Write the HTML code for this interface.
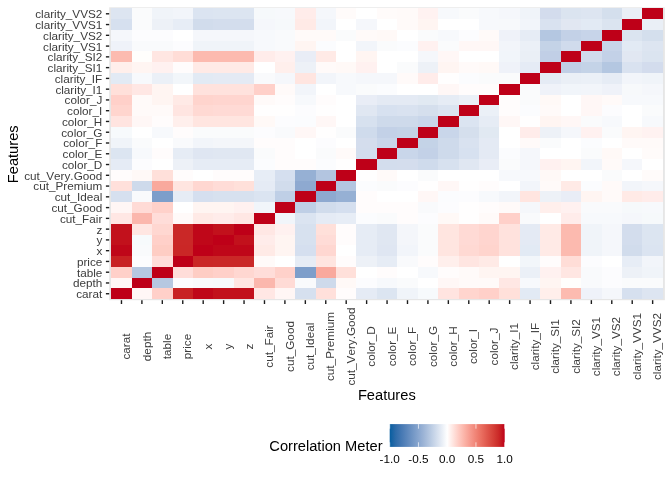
<!DOCTYPE html><html><head><meta charset="utf-8"><title>Correlation heatmap</title><style>html,body{margin:0;padding:0;background:#fff}svg{display:block}text{font-family:"Liberation Sans",Arial,Helvetica,sans-serif;font-kerning:none}</style></head><body>
<svg width="672" height="480" viewBox="0 0 672 480">
<rect width="672" height="480" fill="#fff"/>
<rect x="109.2" y="7.33" width="555.65" height="292.87" fill="#E6E6E6"/>
<g shape-rendering="crispEdges">
<rect x="111" y="288" width="21" height="11" fill="#BE0018"/>
<rect x="111" y="278" width="21" height="10" fill="#FFF7F6"/>
<rect x="111" y="267" width="21" height="11" fill="#FFD0C9"/>
<rect x="111" y="256" width="21" height="11" fill="#C82223"/>
<rect x="111" y="245" width="21" height="11" fill="#BF0719"/>
<rect x="111" y="235" width="21" height="10" fill="#C2111C"/>
<rect x="111" y="224" width="21" height="11" fill="#C2111C"/>
<rect x="111" y="213" width="21" height="11" fill="#FFE7E4"/>
<rect x="111" y="202" width="21" height="11" fill="#FFF6F5"/>
<rect x="111" y="191" width="21" height="11" fill="#D6E0EF"/>
<rect x="111" y="181" width="21" height="10" fill="#FFE0DB"/>
<rect x="111" y="170" width="21" height="11" fill="#FFFCFC"/>
<rect x="111" y="159" width="21" height="11" fill="#E5EBF5"/>
<rect x="111" y="148" width="21" height="11" fill="#DCE5F1"/>
<rect x="111" y="138" width="21" height="10" fill="#F0F4F9"/>
<rect x="111" y="127" width="21" height="11" fill="#F7FAFC"/>
<rect x="111" y="116" width="21" height="11" fill="#FFE4E0"/>
<rect x="111" y="105" width="21" height="11" fill="#FFD5CE"/>
<rect x="111" y="95" width="21" height="10" fill="#FFD0C9"/>
<rect x="111" y="84" width="21" height="11" fill="#FFE0DA"/>
<rect x="111" y="73" width="21" height="11" fill="#E2EAF4"/>
<rect x="111" y="62" width="21" height="11" fill="#FFEFEB"/>
<rect x="111" y="51" width="21" height="11" fill="#FCBBB0"/>
<rect x="111" y="41" width="21" height="10" fill="#EFF2F9"/>
<rect x="111" y="30" width="21" height="11" fill="#F5F7FB"/>
<rect x="111" y="19" width="21" height="11" fill="#D6E0EF"/>
<rect x="111" y="8" width="21" height="11" fill="#DDE5F1"/>
<rect x="132" y="288" width="20" height="11" fill="#FFF7F6"/>
<rect x="132" y="278" width="20" height="10" fill="#BE0018"/>
<rect x="132" y="267" width="20" height="11" fill="#B6C8E1"/>
<rect x="132" y="256" width="20" height="11" fill="#FCFCFE"/>
<rect x="132" y="245" width="20" height="11" fill="#F9FAFC"/>
<rect x="132" y="235" width="20" height="10" fill="#F7FAFC"/>
<rect x="132" y="224" width="20" height="11" fill="#FFE6E2"/>
<rect x="132" y="213" width="20" height="11" fill="#FBB7AD"/>
<rect x="132" y="202" width="20" height="11" fill="#FFDBD6"/>
<rect x="132" y="191" width="20" height="11" fill="#F9FAFC"/>
<rect x="132" y="181" width="20" height="10" fill="#CEDAEB"/>
<rect x="132" y="170" width="20" height="11" fill="#FFF9F7"/>
<rect x="132" y="159" width="20" height="11" fill="#FCFCFE"/>
<rect x="132" y="148" width="20" height="11" fill="#F7F9FC"/>
<rect x="132" y="138" width="20" height="10" fill="#FAFBFC"/>
<rect x="132" y="127" width="20" height="11" fill="#FFFFFF"/>
<rect x="132" y="116" width="20" height="11" fill="#FFF7F6"/>
<rect x="132" y="105" width="20" height="11" fill="#FFFAF9"/>
<rect x="132" y="95" width="20" height="10" fill="#FFFAF9"/>
<rect x="132" y="84" width="20" height="11" fill="#FFE7E4"/>
<rect x="132" y="73" width="20" height="11" fill="#F7F9FC"/>
<rect x="132" y="62" width="20" height="11" fill="#FFF5F2"/>
<rect x="132" y="51" width="20" height="11" fill="#FFFEFC"/>
<rect x="132" y="41" width="20" height="10" fill="#F9FAFC"/>
<rect x="132" y="30" width="20" height="11" fill="#FCFCFE"/>
<rect x="132" y="19" width="20" height="11" fill="#FAFBFC"/>
<rect x="132" y="8" width="20" height="11" fill="#FAFBFC"/>
<rect x="152" y="288" width="21" height="11" fill="#FFD0C9"/>
<rect x="152" y="278" width="21" height="10" fill="#B6C8E1"/>
<rect x="152" y="267" width="21" height="11" fill="#BE0018"/>
<rect x="152" y="256" width="21" height="11" fill="#FFDDD9"/>
<rect x="152" y="245" width="21" height="11" fill="#FECDC4"/>
<rect x="152" y="235" width="21" height="10" fill="#FFD0C9"/>
<rect x="152" y="224" width="21" height="11" fill="#FFD7D1"/>
<rect x="152" y="213" width="21" height="11" fill="#FFDDD9"/>
<rect x="152" y="202" width="21" height="11" fill="#FFD1CA"/>
<rect x="152" y="191" width="21" height="11" fill="#7D9ECA"/>
<rect x="152" y="181" width="21" height="10" fill="#F9A99D"/>
<rect x="152" y="170" width="21" height="11" fill="#FFE0DA"/>
<rect x="152" y="159" width="21" height="11" fill="#FFFFFF"/>
<rect x="152" y="148" width="21" height="11" fill="#FFFCFC"/>
<rect x="152" y="138" width="21" height="10" fill="#FFFFFF"/>
<rect x="152" y="127" width="21" height="11" fill="#F7F9FC"/>
<rect x="152" y="116" width="21" height="11" fill="#FFFCFC"/>
<rect x="152" y="105" width="21" height="11" fill="#FFFAF9"/>
<rect x="152" y="95" width="21" height="10" fill="#FFF5F2"/>
<rect x="152" y="84" width="21" height="11" fill="#FFF5F2"/>
<rect x="152" y="73" width="21" height="11" fill="#EBF0F7"/>
<rect x="152" y="62" width="21" height="11" fill="#FFF1F0"/>
<rect x="152" y="51" width="21" height="11" fill="#FFE6E2"/>
<rect x="152" y="41" width="21" height="10" fill="#F9FAFC"/>
<rect x="152" y="30" width="21" height="11" fill="#FCFCFE"/>
<rect x="152" y="19" width="21" height="11" fill="#EDF1F7"/>
<rect x="152" y="8" width="21" height="11" fill="#F0F4F9"/>
<rect x="173" y="288" width="20" height="11" fill="#C82223"/>
<rect x="173" y="278" width="20" height="10" fill="#FCFCFE"/>
<rect x="173" y="267" width="20" height="11" fill="#FFDDD9"/>
<rect x="173" y="256" width="20" height="11" fill="#BE0018"/>
<rect x="173" y="245" width="20" height="11" fill="#CA2726"/>
<rect x="173" y="235" width="20" height="10" fill="#CA2827"/>
<rect x="173" y="224" width="20" height="11" fill="#CA2827"/>
<rect x="173" y="213" width="20" height="11" fill="#FFFAF9"/>
<rect x="173" y="202" width="20" height="11" fill="#FFFFFF"/>
<rect x="173" y="191" width="20" height="11" fill="#E6ECF5"/>
<rect x="173" y="181" width="20" height="10" fill="#FFE5E0"/>
<rect x="173" y="170" width="20" height="11" fill="#FFFCFC"/>
<rect x="173" y="159" width="20" height="11" fill="#EDF1F7"/>
<rect x="173" y="148" width="20" height="11" fill="#E6ECF5"/>
<rect x="173" y="138" width="20" height="10" fill="#F9FAFC"/>
<rect x="173" y="127" width="20" height="11" fill="#FFFCFC"/>
<rect x="173" y="116" width="20" height="11" fill="#FFEFEC"/>
<rect x="173" y="105" width="20" height="11" fill="#FFE5E1"/>
<rect x="173" y="95" width="20" height="10" fill="#FFEAE6"/>
<rect x="173" y="84" width="20" height="11" fill="#FFFFFF"/>
<rect x="173" y="73" width="20" height="11" fill="#F2F6FA"/>
<rect x="173" y="62" width="20" height="11" fill="#FFFCFC"/>
<rect x="173" y="51" width="20" height="11" fill="#FFDDD7"/>
<rect x="173" y="41" width="20" height="10" fill="#FCFCFE"/>
<rect x="173" y="30" width="20" height="11" fill="#FFFFFF"/>
<rect x="173" y="19" width="20" height="11" fill="#E7EDF6"/>
<rect x="173" y="8" width="20" height="11" fill="#F2F5FA"/>
<rect x="193" y="288" width="20" height="11" fill="#BF0719"/>
<rect x="193" y="278" width="20" height="10" fill="#F9FAFC"/>
<rect x="193" y="267" width="20" height="11" fill="#FECDC4"/>
<rect x="193" y="256" width="20" height="11" fill="#CA2726"/>
<rect x="193" y="245" width="20" height="11" fill="#BE0018"/>
<rect x="193" y="235" width="20" height="10" fill="#BF0719"/>
<rect x="193" y="224" width="20" height="11" fill="#BF0719"/>
<rect x="193" y="213" width="20" height="11" fill="#FFEAE6"/>
<rect x="193" y="202" width="20" height="11" fill="#FFF5F2"/>
<rect x="193" y="191" width="20" height="11" fill="#D5DFEF"/>
<rect x="193" y="181" width="20" height="10" fill="#FFD7D1"/>
<rect x="193" y="170" width="20" height="11" fill="#FFFFFF"/>
<rect x="193" y="159" width="20" height="11" fill="#E6ECF5"/>
<rect x="193" y="148" width="20" height="11" fill="#DFE6F2"/>
<rect x="193" y="138" width="20" height="10" fill="#F2F5FA"/>
<rect x="193" y="127" width="20" height="11" fill="#FAFBFC"/>
<rect x="193" y="116" width="20" height="11" fill="#FFE5E0"/>
<rect x="193" y="105" width="20" height="11" fill="#FFD9D3"/>
<rect x="193" y="95" width="20" height="10" fill="#FFD4CD"/>
<rect x="193" y="84" width="20" height="11" fill="#FFE2DD"/>
<rect x="193" y="73" width="20" height="11" fill="#E2EAF4"/>
<rect x="193" y="62" width="20" height="11" fill="#FFEAE6"/>
<rect x="193" y="51" width="20" height="11" fill="#FCBAAF"/>
<rect x="193" y="41" width="20" height="10" fill="#F0F4F9"/>
<rect x="193" y="30" width="20" height="11" fill="#F5F7FB"/>
<rect x="193" y="19" width="20" height="11" fill="#D1DCEC"/>
<rect x="193" y="8" width="20" height="11" fill="#DBE4F1"/>
<rect x="213" y="288" width="21" height="11" fill="#C2111C"/>
<rect x="213" y="278" width="21" height="10" fill="#F7FAFC"/>
<rect x="213" y="267" width="21" height="11" fill="#FFD0C9"/>
<rect x="213" y="256" width="21" height="11" fill="#CA2827"/>
<rect x="213" y="245" width="21" height="11" fill="#BF0719"/>
<rect x="213" y="235" width="21" height="10" fill="#BE0018"/>
<rect x="213" y="224" width="21" height="11" fill="#C2111C"/>
<rect x="213" y="213" width="21" height="11" fill="#FFECEA"/>
<rect x="213" y="202" width="21" height="11" fill="#FFF5F2"/>
<rect x="213" y="191" width="21" height="11" fill="#D7E1EF"/>
<rect x="213" y="181" width="21" height="10" fill="#FFDCD7"/>
<rect x="213" y="170" width="21" height="11" fill="#FFFCFC"/>
<rect x="213" y="159" width="21" height="11" fill="#E6ECF5"/>
<rect x="213" y="148" width="21" height="11" fill="#E0E7F2"/>
<rect x="213" y="138" width="21" height="10" fill="#F4F6FA"/>
<rect x="213" y="127" width="21" height="11" fill="#FAFBFC"/>
<rect x="213" y="116" width="21" height="11" fill="#FFE5E0"/>
<rect x="213" y="105" width="21" height="11" fill="#FFDAD5"/>
<rect x="213" y="95" width="21" height="10" fill="#FFD5CF"/>
<rect x="213" y="84" width="21" height="11" fill="#FFE2DD"/>
<rect x="213" y="73" width="21" height="11" fill="#E4EAF4"/>
<rect x="213" y="62" width="21" height="11" fill="#FFEAE6"/>
<rect x="213" y="51" width="21" height="11" fill="#FCBAAF"/>
<rect x="213" y="41" width="21" height="10" fill="#F0F4F9"/>
<rect x="213" y="30" width="21" height="11" fill="#F5F7FB"/>
<rect x="213" y="19" width="21" height="11" fill="#D3DDED"/>
<rect x="213" y="8" width="21" height="11" fill="#DCE5F1"/>
<rect x="234" y="288" width="20" height="11" fill="#C2111C"/>
<rect x="234" y="278" width="20" height="10" fill="#FFE6E2"/>
<rect x="234" y="267" width="20" height="11" fill="#FFD7D1"/>
<rect x="234" y="256" width="20" height="11" fill="#CA2827"/>
<rect x="234" y="245" width="20" height="11" fill="#BF0719"/>
<rect x="234" y="235" width="20" height="10" fill="#C2111C"/>
<rect x="234" y="224" width="20" height="11" fill="#BE0018"/>
<rect x="234" y="213" width="20" height="11" fill="#FFE7E4"/>
<rect x="234" y="202" width="20" height="11" fill="#FFF1F0"/>
<rect x="234" y="191" width="20" height="11" fill="#D7E1EF"/>
<rect x="234" y="181" width="20" height="10" fill="#FFE0DA"/>
<rect x="234" y="170" width="20" height="11" fill="#FFFCFC"/>
<rect x="234" y="159" width="20" height="11" fill="#E6ECF5"/>
<rect x="234" y="148" width="20" height="11" fill="#E0E7F2"/>
<rect x="234" y="138" width="20" height="10" fill="#F4F6FA"/>
<rect x="234" y="127" width="20" height="11" fill="#FAFBFC"/>
<rect x="234" y="116" width="20" height="11" fill="#FFE5E0"/>
<rect x="234" y="105" width="20" height="11" fill="#FFDAD5"/>
<rect x="234" y="95" width="20" height="10" fill="#FFD5CF"/>
<rect x="234" y="84" width="20" height="11" fill="#FFE2DD"/>
<rect x="234" y="73" width="20" height="11" fill="#E4EAF4"/>
<rect x="234" y="62" width="20" height="11" fill="#FFEAE6"/>
<rect x="234" y="51" width="20" height="11" fill="#FCBAAF"/>
<rect x="234" y="41" width="20" height="10" fill="#F0F4F9"/>
<rect x="234" y="30" width="20" height="11" fill="#F5F7FB"/>
<rect x="234" y="19" width="20" height="11" fill="#D3DDED"/>
<rect x="234" y="8" width="20" height="11" fill="#DCE5F1"/>
<rect x="254" y="288" width="21" height="11" fill="#FFE7E4"/>
<rect x="254" y="278" width="21" height="10" fill="#FBB7AD"/>
<rect x="254" y="267" width="21" height="11" fill="#FFDDD9"/>
<rect x="254" y="256" width="21" height="11" fill="#FFFAF9"/>
<rect x="254" y="245" width="21" height="11" fill="#FFEAE6"/>
<rect x="254" y="235" width="21" height="10" fill="#FFECEA"/>
<rect x="254" y="224" width="21" height="11" fill="#FFE7E4"/>
<rect x="254" y="213" width="21" height="11" fill="#BE0018"/>
<rect x="254" y="202" width="21" height="11" fill="#F1F5FA"/>
<rect x="254" y="191" width="21" height="11" fill="#DBE4F1"/>
<rect x="254" y="181" width="21" height="10" fill="#E5EBF5"/>
<rect x="254" y="170" width="21" height="11" fill="#E7EDF6"/>
<rect x="254" y="159" width="21" height="11" fill="#FBFCFE"/>
<rect x="254" y="148" width="21" height="11" fill="#FAFBFC"/>
<rect x="254" y="138" width="21" height="10" fill="#FFFCFC"/>
<rect x="254" y="127" width="21" height="11" fill="#FCFCFE"/>
<rect x="254" y="116" width="21" height="11" fill="#FFF9F7"/>
<rect x="254" y="105" width="21" height="11" fill="#FFFEFE"/>
<rect x="254" y="95" width="21" height="10" fill="#FFFAF9"/>
<rect x="254" y="84" width="21" height="11" fill="#FFD0C9"/>
<rect x="254" y="73" width="21" height="11" fill="#F9FAFC"/>
<rect x="254" y="62" width="21" height="11" fill="#FFFFFF"/>
<rect x="254" y="51" width="21" height="11" fill="#FFECEA"/>
<rect x="254" y="41" width="21" height="10" fill="#F7F9FC"/>
<rect x="254" y="30" width="21" height="11" fill="#F7F9FC"/>
<rect x="254" y="19" width="21" height="11" fill="#F5F7FB"/>
<rect x="254" y="8" width="21" height="11" fill="#F6F9FB"/>
<rect x="275" y="288" width="20" height="11" fill="#FFF6F5"/>
<rect x="275" y="278" width="20" height="10" fill="#FFDBD6"/>
<rect x="275" y="267" width="20" height="11" fill="#FFD1CA"/>
<rect x="275" y="256" width="20" height="11" fill="#FFFFFF"/>
<rect x="275" y="245" width="20" height="11" fill="#FFF5F2"/>
<rect x="275" y="235" width="20" height="10" fill="#FFF5F2"/>
<rect x="275" y="224" width="20" height="11" fill="#FFF1F0"/>
<rect x="275" y="213" width="20" height="11" fill="#F1F5FA"/>
<rect x="275" y="202" width="20" height="11" fill="#BE0018"/>
<rect x="275" y="191" width="20" height="11" fill="#BFCFE6"/>
<rect x="275" y="181" width="20" height="10" fill="#D1DCEC"/>
<rect x="275" y="170" width="20" height="11" fill="#D5DFEF"/>
<rect x="275" y="159" width="20" height="11" fill="#FFFCFC"/>
<rect x="275" y="148" width="20" height="11" fill="#FFFCFC"/>
<rect x="275" y="138" width="20" height="10" fill="#FFFCFC"/>
<rect x="275" y="127" width="20" height="11" fill="#F9FAFC"/>
<rect x="275" y="116" width="20" height="11" fill="#FCFCFE"/>
<rect x="275" y="105" width="20" height="11" fill="#FFFEFE"/>
<rect x="275" y="95" width="20" height="10" fill="#FFFCFC"/>
<rect x="275" y="84" width="20" height="11" fill="#FFFAF9"/>
<rect x="275" y="73" width="20" height="11" fill="#F5F7FB"/>
<rect x="275" y="62" width="20" height="11" fill="#FFEFEC"/>
<rect x="275" y="51" width="20" height="11" fill="#FFF1F0"/>
<rect x="275" y="41" width="20" height="10" fill="#F9FAFC"/>
<rect x="275" y="30" width="20" height="11" fill="#F9FAFC"/>
<rect x="275" y="19" width="20" height="11" fill="#F6F9FB"/>
<rect x="275" y="8" width="20" height="11" fill="#F7F9FC"/>
<rect x="295" y="288" width="21" height="11" fill="#D6E0EF"/>
<rect x="295" y="278" width="21" height="10" fill="#F9FAFC"/>
<rect x="295" y="267" width="21" height="11" fill="#7D9ECA"/>
<rect x="295" y="256" width="21" height="11" fill="#E6ECF5"/>
<rect x="295" y="245" width="21" height="11" fill="#D5DFEF"/>
<rect x="295" y="235" width="21" height="10" fill="#D7E1EF"/>
<rect x="295" y="224" width="21" height="11" fill="#D7E1EF"/>
<rect x="295" y="213" width="21" height="11" fill="#DBE4F1"/>
<rect x="295" y="202" width="21" height="11" fill="#BFCFE6"/>
<rect x="295" y="191" width="21" height="11" fill="#BE0018"/>
<rect x="295" y="181" width="21" height="10" fill="#8EA9D0"/>
<rect x="295" y="170" width="21" height="11" fill="#96B0D4"/>
<rect x="295" y="159" width="21" height="11" fill="#FFFCFC"/>
<rect x="295" y="148" width="21" height="11" fill="#FFFFFF"/>
<rect x="295" y="138" width="21" height="10" fill="#FFFFFF"/>
<rect x="295" y="127" width="21" height="11" fill="#FFF7F6"/>
<rect x="295" y="116" width="21" height="11" fill="#FBFCFE"/>
<rect x="295" y="105" width="21" height="11" fill="#FCFCFE"/>
<rect x="295" y="95" width="21" height="10" fill="#F7F9FC"/>
<rect x="295" y="84" width="21" height="11" fill="#F2F5FA"/>
<rect x="295" y="73" width="21" height="11" fill="#FFE5E0"/>
<rect x="295" y="62" width="21" height="11" fill="#EDF1F7"/>
<rect x="295" y="51" width="21" height="11" fill="#E9EDF6"/>
<rect x="295" y="41" width="21" height="10" fill="#FFF5F2"/>
<rect x="295" y="30" width="21" height="11" fill="#FFFAF9"/>
<rect x="295" y="19" width="21" height="11" fill="#FFEAE6"/>
<rect x="295" y="8" width="21" height="11" fill="#FFECEA"/>
<rect x="316" y="288" width="20" height="11" fill="#FFE0DB"/>
<rect x="316" y="278" width="20" height="10" fill="#CEDAEB"/>
<rect x="316" y="267" width="20" height="11" fill="#F9A99D"/>
<rect x="316" y="256" width="20" height="11" fill="#FFE5E0"/>
<rect x="316" y="245" width="20" height="11" fill="#FFD7D1"/>
<rect x="316" y="235" width="20" height="10" fill="#FFDCD7"/>
<rect x="316" y="224" width="20" height="11" fill="#FFE0DA"/>
<rect x="316" y="213" width="20" height="11" fill="#E5EBF5"/>
<rect x="316" y="202" width="20" height="11" fill="#D1DCEC"/>
<rect x="316" y="191" width="20" height="11" fill="#8EA9D0"/>
<rect x="316" y="181" width="20" height="10" fill="#BE0018"/>
<rect x="316" y="170" width="20" height="11" fill="#B3C5E0"/>
<rect x="316" y="159" width="20" height="11" fill="#FBFCFE"/>
<rect x="316" y="148" width="20" height="11" fill="#FAFBFC"/>
<rect x="316" y="138" width="20" height="10" fill="#FCFCFE"/>
<rect x="316" y="127" width="20" height="11" fill="#FFFEFE"/>
<rect x="316" y="116" width="20" height="11" fill="#FFF7F6"/>
<rect x="316" y="105" width="20" height="11" fill="#FFFEFE"/>
<rect x="316" y="95" width="20" height="10" fill="#FFFCFC"/>
<rect x="316" y="84" width="20" height="11" fill="#FFFFFF"/>
<rect x="316" y="73" width="20" height="11" fill="#F2F5FA"/>
<rect x="316" y="62" width="20" height="11" fill="#FFFAF9"/>
<rect x="316" y="51" width="20" height="11" fill="#FFEAE6"/>
<rect x="316" y="41" width="20" height="10" fill="#FBFCFE"/>
<rect x="316" y="30" width="20" height="11" fill="#FFFAF9"/>
<rect x="316" y="19" width="20" height="11" fill="#F2F5FA"/>
<rect x="316" y="8" width="20" height="11" fill="#F5F7FB"/>
<rect x="336" y="288" width="20" height="11" fill="#FFFCFC"/>
<rect x="336" y="278" width="20" height="10" fill="#FFF9F7"/>
<rect x="336" y="267" width="20" height="11" fill="#FFE0DA"/>
<rect x="336" y="256" width="20" height="11" fill="#FFFCFC"/>
<rect x="336" y="245" width="20" height="11" fill="#FFFFFF"/>
<rect x="336" y="235" width="20" height="10" fill="#FFFCFC"/>
<rect x="336" y="224" width="20" height="11" fill="#FFFCFC"/>
<rect x="336" y="213" width="20" height="11" fill="#E7EDF6"/>
<rect x="336" y="202" width="20" height="11" fill="#D5DFEF"/>
<rect x="336" y="191" width="20" height="11" fill="#96B0D4"/>
<rect x="336" y="181" width="20" height="10" fill="#B3C5E0"/>
<rect x="336" y="170" width="20" height="11" fill="#BE0018"/>
<rect x="336" y="159" width="20" height="11" fill="#FFFEFE"/>
<rect x="336" y="148" width="20" height="11" fill="#FFFAF9"/>
<rect x="336" y="138" width="20" height="10" fill="#FFFFFF"/>
<rect x="336" y="127" width="20" height="11" fill="#FAFBFC"/>
<rect x="336" y="116" width="20" height="11" fill="#FFFFFF"/>
<rect x="336" y="105" width="20" height="11" fill="#FFFFFF"/>
<rect x="336" y="95" width="20" height="10" fill="#FFFFFF"/>
<rect x="336" y="84" width="20" height="11" fill="#F7F9FC"/>
<rect x="336" y="73" width="20" height="11" fill="#F7F9FC"/>
<rect x="336" y="62" width="20" height="11" fill="#FFF9F7"/>
<rect x="336" y="51" width="20" height="11" fill="#FFFFFF"/>
<rect x="336" y="41" width="20" height="10" fill="#FFFFFF"/>
<rect x="336" y="30" width="20" height="11" fill="#FAFBFC"/>
<rect x="336" y="19" width="20" height="11" fill="#FFFFFF"/>
<rect x="336" y="8" width="20" height="11" fill="#FFFBFA"/>
<rect x="356" y="288" width="21" height="11" fill="#E5EBF5"/>
<rect x="356" y="278" width="21" height="10" fill="#FCFCFE"/>
<rect x="356" y="267" width="21" height="11" fill="#FFFFFF"/>
<rect x="356" y="256" width="21" height="11" fill="#EDF1F7"/>
<rect x="356" y="245" width="21" height="11" fill="#E6ECF5"/>
<rect x="356" y="235" width="21" height="10" fill="#E6ECF5"/>
<rect x="356" y="224" width="21" height="11" fill="#E6ECF5"/>
<rect x="356" y="213" width="21" height="11" fill="#FBFCFE"/>
<rect x="356" y="202" width="21" height="11" fill="#FFFCFC"/>
<rect x="356" y="191" width="21" height="11" fill="#FFFCFC"/>
<rect x="356" y="181" width="21" height="10" fill="#FBFCFE"/>
<rect x="356" y="170" width="21" height="11" fill="#FFFEFE"/>
<rect x="356" y="159" width="21" height="11" fill="#BE0018"/>
<rect x="356" y="148" width="21" height="11" fill="#D3DDED"/>
<rect x="356" y="138" width="21" height="10" fill="#D4DDED"/>
<rect x="356" y="127" width="21" height="11" fill="#CFDBEC"/>
<rect x="356" y="116" width="21" height="11" fill="#D7E1EF"/>
<rect x="356" y="105" width="21" height="11" fill="#E0E7F2"/>
<rect x="356" y="95" width="21" height="10" fill="#E9EDF6"/>
<rect x="356" y="84" width="21" height="11" fill="#FAFBFC"/>
<rect x="356" y="73" width="21" height="11" fill="#F5F7FB"/>
<rect x="356" y="62" width="21" height="11" fill="#FFF1F0"/>
<rect x="356" y="51" width="21" height="11" fill="#FFF5F2"/>
<rect x="356" y="41" width="21" height="10" fill="#F2F5FA"/>
<rect x="356" y="30" width="21" height="11" fill="#FFFAF9"/>
<rect x="356" y="19" width="21" height="11" fill="#F5F7FB"/>
<rect x="356" y="8" width="21" height="11" fill="#FFFFFF"/>
<rect x="377" y="288" width="20" height="11" fill="#DCE5F1"/>
<rect x="377" y="278" width="20" height="10" fill="#F7F9FC"/>
<rect x="377" y="267" width="20" height="11" fill="#FFFCFC"/>
<rect x="377" y="256" width="20" height="11" fill="#E6ECF5"/>
<rect x="377" y="245" width="20" height="11" fill="#DFE6F2"/>
<rect x="377" y="235" width="20" height="10" fill="#E0E7F2"/>
<rect x="377" y="224" width="20" height="11" fill="#E0E7F2"/>
<rect x="377" y="213" width="20" height="11" fill="#FAFBFC"/>
<rect x="377" y="202" width="20" height="11" fill="#FFFCFC"/>
<rect x="377" y="191" width="20" height="11" fill="#FFFFFF"/>
<rect x="377" y="181" width="20" height="10" fill="#FAFBFC"/>
<rect x="377" y="170" width="20" height="11" fill="#FFFAF9"/>
<rect x="377" y="159" width="20" height="11" fill="#D3DDED"/>
<rect x="377" y="148" width="20" height="11" fill="#BE0018"/>
<rect x="377" y="138" width="20" height="10" fill="#C9D6EA"/>
<rect x="377" y="127" width="20" height="11" fill="#C3D1E7"/>
<rect x="377" y="116" width="20" height="11" fill="#CEDAEB"/>
<rect x="377" y="105" width="20" height="11" fill="#D7E1F0"/>
<rect x="377" y="95" width="20" height="10" fill="#E4EAF4"/>
<rect x="377" y="84" width="20" height="11" fill="#FBFCFE"/>
<rect x="377" y="73" width="20" height="11" fill="#F5F7FB"/>
<rect x="377" y="62" width="20" height="11" fill="#FFFFFF"/>
<rect x="377" y="51" width="20" height="11" fill="#FFFFFF"/>
<rect x="377" y="41" width="20" height="10" fill="#FAFBFC"/>
<rect x="377" y="30" width="20" height="11" fill="#FFF9F7"/>
<rect x="377" y="19" width="20" height="11" fill="#FFFFFF"/>
<rect x="377" y="8" width="20" height="11" fill="#FFFBFA"/>
<rect x="397" y="288" width="21" height="11" fill="#F0F4F9"/>
<rect x="397" y="278" width="21" height="10" fill="#FAFBFC"/>
<rect x="397" y="267" width="21" height="11" fill="#FFFFFF"/>
<rect x="397" y="256" width="21" height="11" fill="#F9FAFC"/>
<rect x="397" y="245" width="21" height="11" fill="#F2F5FA"/>
<rect x="397" y="235" width="21" height="10" fill="#F4F6FA"/>
<rect x="397" y="224" width="21" height="11" fill="#F4F6FA"/>
<rect x="397" y="213" width="21" height="11" fill="#FFFCFC"/>
<rect x="397" y="202" width="21" height="11" fill="#FFFCFC"/>
<rect x="397" y="191" width="21" height="11" fill="#FFFFFF"/>
<rect x="397" y="181" width="21" height="10" fill="#FCFCFE"/>
<rect x="397" y="170" width="21" height="11" fill="#FFFFFF"/>
<rect x="397" y="159" width="21" height="11" fill="#D4DDED"/>
<rect x="397" y="148" width="21" height="11" fill="#C9D6EA"/>
<rect x="397" y="138" width="21" height="10" fill="#BE0018"/>
<rect x="397" y="127" width="21" height="11" fill="#C4D3E7"/>
<rect x="397" y="116" width="21" height="11" fill="#CEDAEB"/>
<rect x="397" y="105" width="21" height="11" fill="#D9E2F0"/>
<rect x="397" y="95" width="21" height="10" fill="#E4EAF4"/>
<rect x="397" y="84" width="21" height="11" fill="#FFFFFF"/>
<rect x="397" y="73" width="21" height="11" fill="#FFFAF9"/>
<rect x="397" y="62" width="21" height="11" fill="#FAFBFC"/>
<rect x="397" y="51" width="21" height="11" fill="#FFFFFF"/>
<rect x="397" y="41" width="21" height="10" fill="#FBFCFE"/>
<rect x="397" y="30" width="21" height="11" fill="#FFFFFF"/>
<rect x="397" y="19" width="21" height="11" fill="#FFFAF9"/>
<rect x="397" y="8" width="21" height="11" fill="#FFFAF9"/>
<rect x="418" y="288" width="20" height="11" fill="#F7FAFC"/>
<rect x="418" y="278" width="20" height="10" fill="#FFFFFF"/>
<rect x="418" y="267" width="20" height="11" fill="#F7F9FC"/>
<rect x="418" y="256" width="20" height="11" fill="#FFFCFC"/>
<rect x="418" y="245" width="20" height="11" fill="#FAFBFC"/>
<rect x="418" y="235" width="20" height="10" fill="#FAFBFC"/>
<rect x="418" y="224" width="20" height="11" fill="#FAFBFC"/>
<rect x="418" y="213" width="20" height="11" fill="#FCFCFE"/>
<rect x="418" y="202" width="20" height="11" fill="#F9FAFC"/>
<rect x="418" y="191" width="20" height="11" fill="#FFF7F6"/>
<rect x="418" y="181" width="20" height="10" fill="#FFFEFE"/>
<rect x="418" y="170" width="20" height="11" fill="#FAFBFC"/>
<rect x="418" y="159" width="20" height="11" fill="#CFDBEC"/>
<rect x="418" y="148" width="20" height="11" fill="#C3D1E7"/>
<rect x="418" y="138" width="20" height="10" fill="#C4D3E7"/>
<rect x="418" y="127" width="20" height="11" fill="#BE0018"/>
<rect x="418" y="116" width="20" height="11" fill="#C9D6EA"/>
<rect x="418" y="105" width="20" height="11" fill="#D5DFED"/>
<rect x="418" y="95" width="20" height="10" fill="#E1E9F2"/>
<rect x="418" y="84" width="20" height="11" fill="#FFFFFF"/>
<rect x="418" y="73" width="20" height="11" fill="#FFECEA"/>
<rect x="418" y="62" width="20" height="11" fill="#EDF1F7"/>
<rect x="418" y="51" width="20" height="11" fill="#F5F7FB"/>
<rect x="418" y="41" width="20" height="10" fill="#FFF1F0"/>
<rect x="418" y="30" width="20" height="11" fill="#FAFBFC"/>
<rect x="418" y="19" width="20" height="11" fill="#FFF5F2"/>
<rect x="418" y="8" width="20" height="11" fill="#FFF2F1"/>
<rect x="438" y="288" width="21" height="11" fill="#FFE4E0"/>
<rect x="438" y="278" width="21" height="10" fill="#FFF7F6"/>
<rect x="438" y="267" width="21" height="11" fill="#FFFCFC"/>
<rect x="438" y="256" width="21" height="11" fill="#FFEFEC"/>
<rect x="438" y="245" width="21" height="11" fill="#FFE5E0"/>
<rect x="438" y="235" width="21" height="10" fill="#FFE5E0"/>
<rect x="438" y="224" width="21" height="11" fill="#FFE5E0"/>
<rect x="438" y="213" width="21" height="11" fill="#FFF9F7"/>
<rect x="438" y="202" width="21" height="11" fill="#FCFCFE"/>
<rect x="438" y="191" width="21" height="11" fill="#FBFCFE"/>
<rect x="438" y="181" width="21" height="10" fill="#FFF7F6"/>
<rect x="438" y="170" width="21" height="11" fill="#FFFFFF"/>
<rect x="438" y="159" width="21" height="11" fill="#D7E1EF"/>
<rect x="438" y="148" width="21" height="11" fill="#CEDAEB"/>
<rect x="438" y="138" width="21" height="10" fill="#CEDAEB"/>
<rect x="438" y="127" width="21" height="11" fill="#C9D6EA"/>
<rect x="438" y="116" width="21" height="11" fill="#BE0018"/>
<rect x="438" y="105" width="21" height="11" fill="#DBE4F1"/>
<rect x="438" y="95" width="21" height="10" fill="#E6ECF5"/>
<rect x="438" y="84" width="21" height="11" fill="#FFF7F6"/>
<rect x="438" y="73" width="21" height="11" fill="#FFFEFE"/>
<rect x="438" y="62" width="21" height="11" fill="#FFF5F2"/>
<rect x="438" y="51" width="21" height="11" fill="#FFF7F6"/>
<rect x="438" y="41" width="21" height="10" fill="#FAFBFC"/>
<rect x="438" y="30" width="21" height="11" fill="#F7F9FC"/>
<rect x="438" y="19" width="21" height="11" fill="#FFFFFF"/>
<rect x="438" y="8" width="21" height="11" fill="#F7F9FC"/>
<rect x="459" y="288" width="20" height="11" fill="#FFD5CE"/>
<rect x="459" y="278" width="20" height="10" fill="#FFFAF9"/>
<rect x="459" y="267" width="20" height="11" fill="#FFFAF9"/>
<rect x="459" y="256" width="20" height="11" fill="#FFE5E1"/>
<rect x="459" y="245" width="20" height="11" fill="#FFD9D3"/>
<rect x="459" y="235" width="20" height="10" fill="#FFDAD5"/>
<rect x="459" y="224" width="20" height="11" fill="#FFDAD5"/>
<rect x="459" y="213" width="20" height="11" fill="#FFFEFE"/>
<rect x="459" y="202" width="20" height="11" fill="#FFFEFE"/>
<rect x="459" y="191" width="20" height="11" fill="#FCFCFE"/>
<rect x="459" y="181" width="20" height="10" fill="#FFFEFE"/>
<rect x="459" y="170" width="20" height="11" fill="#FFFFFF"/>
<rect x="459" y="159" width="20" height="11" fill="#E0E7F2"/>
<rect x="459" y="148" width="20" height="11" fill="#D7E1F0"/>
<rect x="459" y="138" width="20" height="10" fill="#D9E2F0"/>
<rect x="459" y="127" width="20" height="11" fill="#D5DFED"/>
<rect x="459" y="116" width="20" height="11" fill="#DBE4F1"/>
<rect x="459" y="105" width="20" height="11" fill="#BE0018"/>
<rect x="459" y="95" width="20" height="10" fill="#EBF0F7"/>
<rect x="459" y="84" width="20" height="11" fill="#FFFCFC"/>
<rect x="459" y="73" width="20" height="11" fill="#FBFCFE"/>
<rect x="459" y="62" width="20" height="11" fill="#FFFAF9"/>
<rect x="459" y="51" width="20" height="11" fill="#FFFFFF"/>
<rect x="459" y="41" width="20" height="10" fill="#FFF7F6"/>
<rect x="459" y="30" width="20" height="11" fill="#FCFCFE"/>
<rect x="459" y="19" width="20" height="11" fill="#FFFFFF"/>
<rect x="459" y="8" width="20" height="11" fill="#FAFBFC"/>
<rect x="479" y="288" width="20" height="11" fill="#FFD0C9"/>
<rect x="479" y="278" width="20" height="10" fill="#FFFAF9"/>
<rect x="479" y="267" width="20" height="11" fill="#FFF5F2"/>
<rect x="479" y="256" width="20" height="11" fill="#FFEAE6"/>
<rect x="479" y="245" width="20" height="11" fill="#FFD4CD"/>
<rect x="479" y="235" width="20" height="10" fill="#FFD5CF"/>
<rect x="479" y="224" width="20" height="11" fill="#FFD5CF"/>
<rect x="479" y="213" width="20" height="11" fill="#FFFAF9"/>
<rect x="479" y="202" width="20" height="11" fill="#FFFCFC"/>
<rect x="479" y="191" width="20" height="11" fill="#F7F9FC"/>
<rect x="479" y="181" width="20" height="10" fill="#FFFCFC"/>
<rect x="479" y="170" width="20" height="11" fill="#FFFFFF"/>
<rect x="479" y="159" width="20" height="11" fill="#E9EDF6"/>
<rect x="479" y="148" width="20" height="11" fill="#E4EAF4"/>
<rect x="479" y="138" width="20" height="10" fill="#E4EAF4"/>
<rect x="479" y="127" width="20" height="11" fill="#E1E9F2"/>
<rect x="479" y="116" width="20" height="11" fill="#E6ECF5"/>
<rect x="479" y="105" width="20" height="11" fill="#EBF0F7"/>
<rect x="479" y="95" width="20" height="10" fill="#BE0018"/>
<rect x="479" y="84" width="20" height="11" fill="#FFFCFC"/>
<rect x="479" y="73" width="20" height="11" fill="#FAFBFC"/>
<rect x="479" y="62" width="20" height="11" fill="#FFF9F7"/>
<rect x="479" y="51" width="20" height="11" fill="#FFFFFF"/>
<rect x="479" y="41" width="20" height="10" fill="#FFF7F6"/>
<rect x="479" y="30" width="20" height="11" fill="#FFFAF9"/>
<rect x="479" y="19" width="20" height="11" fill="#F7F9FC"/>
<rect x="479" y="8" width="20" height="11" fill="#F7F9FC"/>
<rect x="499" y="288" width="21" height="11" fill="#FFE0DA"/>
<rect x="499" y="278" width="21" height="10" fill="#FFE7E4"/>
<rect x="499" y="267" width="21" height="11" fill="#FFF5F2"/>
<rect x="499" y="256" width="21" height="11" fill="#FFFFFF"/>
<rect x="499" y="245" width="21" height="11" fill="#FFE2DD"/>
<rect x="499" y="235" width="21" height="10" fill="#FFE2DD"/>
<rect x="499" y="224" width="21" height="11" fill="#FFE2DD"/>
<rect x="499" y="213" width="21" height="11" fill="#FFD0C9"/>
<rect x="499" y="202" width="21" height="11" fill="#FFFAF9"/>
<rect x="499" y="191" width="21" height="11" fill="#F2F5FA"/>
<rect x="499" y="181" width="21" height="10" fill="#FFFFFF"/>
<rect x="499" y="170" width="21" height="11" fill="#F7F9FC"/>
<rect x="499" y="159" width="21" height="11" fill="#FAFBFC"/>
<rect x="499" y="148" width="21" height="11" fill="#FBFCFE"/>
<rect x="499" y="138" width="21" height="10" fill="#FFFFFF"/>
<rect x="499" y="127" width="21" height="11" fill="#FFFFFF"/>
<rect x="499" y="116" width="21" height="11" fill="#FFF7F6"/>
<rect x="499" y="105" width="21" height="11" fill="#FFFCFC"/>
<rect x="499" y="95" width="21" height="10" fill="#FFFCFC"/>
<rect x="499" y="84" width="21" height="11" fill="#BE0018"/>
<rect x="499" y="73" width="21" height="11" fill="#FAFBFC"/>
<rect x="499" y="62" width="21" height="11" fill="#EFF2F9"/>
<rect x="499" y="51" width="21" height="11" fill="#F1F5FA"/>
<rect x="499" y="41" width="21" height="10" fill="#F2F5FA"/>
<rect x="499" y="30" width="21" height="11" fill="#EFF2F9"/>
<rect x="499" y="19" width="21" height="11" fill="#F7F9FB"/>
<rect x="499" y="8" width="21" height="11" fill="#F5F7FB"/>
<rect x="520" y="288" width="20" height="11" fill="#E2EAF4"/>
<rect x="520" y="278" width="20" height="10" fill="#F7F9FC"/>
<rect x="520" y="267" width="20" height="11" fill="#EBF0F7"/>
<rect x="520" y="256" width="20" height="11" fill="#F2F6FA"/>
<rect x="520" y="245" width="20" height="11" fill="#E2EAF4"/>
<rect x="520" y="235" width="20" height="10" fill="#E4EAF4"/>
<rect x="520" y="224" width="20" height="11" fill="#E4EAF4"/>
<rect x="520" y="213" width="20" height="11" fill="#F9FAFC"/>
<rect x="520" y="202" width="20" height="11" fill="#F5F7FB"/>
<rect x="520" y="191" width="20" height="11" fill="#FFE5E0"/>
<rect x="520" y="181" width="20" height="10" fill="#F2F5FA"/>
<rect x="520" y="170" width="20" height="11" fill="#F7F9FC"/>
<rect x="520" y="159" width="20" height="11" fill="#F5F7FB"/>
<rect x="520" y="148" width="20" height="11" fill="#F5F7FB"/>
<rect x="520" y="138" width="20" height="10" fill="#FFFAF9"/>
<rect x="520" y="127" width="20" height="11" fill="#FFECEA"/>
<rect x="520" y="116" width="20" height="11" fill="#FFFEFE"/>
<rect x="520" y="105" width="20" height="11" fill="#FBFCFE"/>
<rect x="520" y="95" width="20" height="10" fill="#FAFBFC"/>
<rect x="520" y="84" width="20" height="11" fill="#FAFBFC"/>
<rect x="520" y="73" width="20" height="11" fill="#BE0018"/>
<rect x="520" y="62" width="20" height="11" fill="#E5EBF5"/>
<rect x="520" y="51" width="20" height="11" fill="#EAEFF6"/>
<rect x="520" y="41" width="20" height="10" fill="#EBF0F7"/>
<rect x="520" y="30" width="20" height="11" fill="#E6ECF5"/>
<rect x="520" y="19" width="20" height="11" fill="#F2F5FA"/>
<rect x="520" y="8" width="20" height="11" fill="#F0F4F9"/>
<rect x="540" y="288" width="21" height="11" fill="#FFEFEB"/>
<rect x="540" y="278" width="21" height="10" fill="#FFF5F2"/>
<rect x="540" y="267" width="21" height="11" fill="#FFF1F0"/>
<rect x="540" y="256" width="21" height="11" fill="#FFFCFC"/>
<rect x="540" y="245" width="21" height="11" fill="#FFEAE6"/>
<rect x="540" y="235" width="21" height="10" fill="#FFEAE6"/>
<rect x="540" y="224" width="21" height="11" fill="#FFEAE6"/>
<rect x="540" y="213" width="21" height="11" fill="#FFFFFF"/>
<rect x="540" y="202" width="21" height="11" fill="#FFEFEC"/>
<rect x="540" y="191" width="21" height="11" fill="#EDF1F7"/>
<rect x="540" y="181" width="21" height="10" fill="#FFFAF9"/>
<rect x="540" y="170" width="21" height="11" fill="#FFF9F7"/>
<rect x="540" y="159" width="21" height="11" fill="#FFF1F0"/>
<rect x="540" y="148" width="21" height="11" fill="#FFFFFF"/>
<rect x="540" y="138" width="21" height="10" fill="#FAFBFC"/>
<rect x="540" y="127" width="21" height="11" fill="#EDF1F7"/>
<rect x="540" y="116" width="21" height="11" fill="#FFF5F2"/>
<rect x="540" y="105" width="21" height="11" fill="#FFFAF9"/>
<rect x="540" y="95" width="21" height="10" fill="#FFF9F7"/>
<rect x="540" y="84" width="21" height="11" fill="#EFF2F9"/>
<rect x="540" y="73" width="21" height="11" fill="#E5EBF5"/>
<rect x="540" y="62" width="21" height="11" fill="#BE0018"/>
<rect x="540" y="51" width="21" height="11" fill="#C1CFE6"/>
<rect x="540" y="41" width="21" height="10" fill="#C4D3E7"/>
<rect x="540" y="30" width="21" height="11" fill="#B4C7E1"/>
<rect x="540" y="19" width="21" height="11" fill="#D9E2F0"/>
<rect x="540" y="8" width="21" height="11" fill="#D3DCED"/>
<rect x="561" y="288" width="20" height="11" fill="#FCBBB0"/>
<rect x="561" y="278" width="20" height="10" fill="#FFFEFC"/>
<rect x="561" y="267" width="20" height="11" fill="#FFE6E2"/>
<rect x="561" y="256" width="20" height="11" fill="#FFDDD7"/>
<rect x="561" y="245" width="20" height="11" fill="#FCBAAF"/>
<rect x="561" y="235" width="20" height="10" fill="#FCBAAF"/>
<rect x="561" y="224" width="20" height="11" fill="#FCBAAF"/>
<rect x="561" y="213" width="20" height="11" fill="#FFECEA"/>
<rect x="561" y="202" width="20" height="11" fill="#FFF1F0"/>
<rect x="561" y="191" width="20" height="11" fill="#E9EDF6"/>
<rect x="561" y="181" width="20" height="10" fill="#FFEAE6"/>
<rect x="561" y="170" width="20" height="11" fill="#FFFFFF"/>
<rect x="561" y="159" width="20" height="11" fill="#FFF5F2"/>
<rect x="561" y="148" width="20" height="11" fill="#FFFFFF"/>
<rect x="561" y="138" width="20" height="10" fill="#FFFFFF"/>
<rect x="561" y="127" width="20" height="11" fill="#F5F7FB"/>
<rect x="561" y="116" width="20" height="11" fill="#FFF7F6"/>
<rect x="561" y="105" width="20" height="11" fill="#FFFFFF"/>
<rect x="561" y="95" width="20" height="10" fill="#FFFFFF"/>
<rect x="561" y="84" width="20" height="11" fill="#F1F5FA"/>
<rect x="561" y="73" width="20" height="11" fill="#EAEFF6"/>
<rect x="561" y="62" width="20" height="11" fill="#C1CFE6"/>
<rect x="561" y="51" width="20" height="11" fill="#BE0018"/>
<rect x="561" y="41" width="20" height="10" fill="#D0DBEC"/>
<rect x="561" y="30" width="20" height="11" fill="#C3D1E7"/>
<rect x="561" y="19" width="20" height="11" fill="#E1E7F2"/>
<rect x="561" y="8" width="20" height="11" fill="#DBE4F0"/>
<rect x="581" y="288" width="21" height="11" fill="#EFF2F9"/>
<rect x="581" y="278" width="21" height="10" fill="#F9FAFC"/>
<rect x="581" y="267" width="21" height="11" fill="#F9FAFC"/>
<rect x="581" y="256" width="21" height="11" fill="#FCFCFE"/>
<rect x="581" y="245" width="21" height="11" fill="#F0F4F9"/>
<rect x="581" y="235" width="21" height="10" fill="#F0F4F9"/>
<rect x="581" y="224" width="21" height="11" fill="#F0F4F9"/>
<rect x="581" y="213" width="21" height="11" fill="#F7F9FC"/>
<rect x="581" y="202" width="21" height="11" fill="#F9FAFC"/>
<rect x="581" y="191" width="21" height="11" fill="#FFF5F2"/>
<rect x="581" y="181" width="21" height="10" fill="#FBFCFE"/>
<rect x="581" y="170" width="21" height="11" fill="#FFFFFF"/>
<rect x="581" y="159" width="21" height="11" fill="#F2F5FA"/>
<rect x="581" y="148" width="21" height="11" fill="#FAFBFC"/>
<rect x="581" y="138" width="21" height="10" fill="#FBFCFE"/>
<rect x="581" y="127" width="21" height="11" fill="#FFF1F0"/>
<rect x="581" y="116" width="21" height="11" fill="#FAFBFC"/>
<rect x="581" y="105" width="21" height="11" fill="#FFF7F6"/>
<rect x="581" y="95" width="21" height="10" fill="#FFF7F6"/>
<rect x="581" y="84" width="21" height="11" fill="#F2F5FA"/>
<rect x="581" y="73" width="21" height="11" fill="#EBF0F7"/>
<rect x="581" y="62" width="21" height="11" fill="#C4D3E7"/>
<rect x="581" y="51" width="21" height="11" fill="#D0DBEC"/>
<rect x="581" y="41" width="21" height="10" fill="#BE0018"/>
<rect x="581" y="30" width="21" height="11" fill="#C7D4E9"/>
<rect x="581" y="19" width="21" height="11" fill="#E2EAF4"/>
<rect x="581" y="8" width="21" height="11" fill="#DDE5F1"/>
<rect x="602" y="288" width="20" height="11" fill="#F5F7FB"/>
<rect x="602" y="278" width="20" height="10" fill="#FCFCFE"/>
<rect x="602" y="267" width="20" height="11" fill="#FCFCFE"/>
<rect x="602" y="256" width="20" height="11" fill="#FFFFFF"/>
<rect x="602" y="245" width="20" height="11" fill="#F5F7FB"/>
<rect x="602" y="235" width="20" height="10" fill="#F5F7FB"/>
<rect x="602" y="224" width="20" height="11" fill="#F5F7FB"/>
<rect x="602" y="213" width="20" height="11" fill="#F7F9FC"/>
<rect x="602" y="202" width="20" height="11" fill="#F9FAFC"/>
<rect x="602" y="191" width="20" height="11" fill="#FFFAF9"/>
<rect x="602" y="181" width="20" height="10" fill="#FFFAF9"/>
<rect x="602" y="170" width="20" height="11" fill="#FAFBFC"/>
<rect x="602" y="159" width="20" height="11" fill="#FFFAF9"/>
<rect x="602" y="148" width="20" height="11" fill="#FFF9F7"/>
<rect x="602" y="138" width="20" height="10" fill="#FFFFFF"/>
<rect x="602" y="127" width="20" height="11" fill="#FAFBFC"/>
<rect x="602" y="116" width="20" height="11" fill="#F7F9FC"/>
<rect x="602" y="105" width="20" height="11" fill="#FCFCFE"/>
<rect x="602" y="95" width="20" height="10" fill="#FFFAF9"/>
<rect x="602" y="84" width="20" height="11" fill="#EFF2F9"/>
<rect x="602" y="73" width="20" height="11" fill="#E6ECF5"/>
<rect x="602" y="62" width="20" height="11" fill="#B4C7E1"/>
<rect x="602" y="51" width="20" height="11" fill="#C3D1E7"/>
<rect x="602" y="41" width="20" height="10" fill="#C7D4E9"/>
<rect x="602" y="30" width="20" height="11" fill="#BE0018"/>
<rect x="602" y="19" width="20" height="11" fill="#DBE4F0"/>
<rect x="602" y="8" width="20" height="11" fill="#D4DFED"/>
<rect x="622" y="288" width="20" height="11" fill="#D6E0EF"/>
<rect x="622" y="278" width="20" height="10" fill="#FAFBFC"/>
<rect x="622" y="267" width="20" height="11" fill="#EDF1F7"/>
<rect x="622" y="256" width="20" height="11" fill="#E7EDF6"/>
<rect x="622" y="245" width="20" height="11" fill="#D1DCEC"/>
<rect x="622" y="235" width="20" height="10" fill="#D3DDED"/>
<rect x="622" y="224" width="20" height="11" fill="#D3DDED"/>
<rect x="622" y="213" width="20" height="11" fill="#F5F7FB"/>
<rect x="622" y="202" width="20" height="11" fill="#F6F9FB"/>
<rect x="622" y="191" width="20" height="11" fill="#FFEAE6"/>
<rect x="622" y="181" width="20" height="10" fill="#F2F5FA"/>
<rect x="622" y="170" width="20" height="11" fill="#FFFFFF"/>
<rect x="622" y="159" width="20" height="11" fill="#F5F7FB"/>
<rect x="622" y="148" width="20" height="11" fill="#FFFFFF"/>
<rect x="622" y="138" width="20" height="10" fill="#FFFAF9"/>
<rect x="622" y="127" width="20" height="11" fill="#FFF5F2"/>
<rect x="622" y="116" width="20" height="11" fill="#FFFFFF"/>
<rect x="622" y="105" width="20" height="11" fill="#FFFFFF"/>
<rect x="622" y="95" width="20" height="10" fill="#F7F9FC"/>
<rect x="622" y="84" width="20" height="11" fill="#F7F9FB"/>
<rect x="622" y="73" width="20" height="11" fill="#F2F5FA"/>
<rect x="622" y="62" width="20" height="11" fill="#D9E2F0"/>
<rect x="622" y="51" width="20" height="11" fill="#E1E7F2"/>
<rect x="622" y="41" width="20" height="10" fill="#E2EAF4"/>
<rect x="622" y="30" width="20" height="11" fill="#DBE4F0"/>
<rect x="622" y="19" width="20" height="11" fill="#BE0018"/>
<rect x="622" y="8" width="20" height="11" fill="#EAEFF6"/>
<rect x="642" y="288" width="21" height="11" fill="#DDE5F1"/>
<rect x="642" y="278" width="21" height="10" fill="#FAFBFC"/>
<rect x="642" y="267" width="21" height="11" fill="#F0F4F9"/>
<rect x="642" y="256" width="21" height="11" fill="#F2F5FA"/>
<rect x="642" y="245" width="21" height="11" fill="#DBE4F1"/>
<rect x="642" y="235" width="21" height="10" fill="#DCE5F1"/>
<rect x="642" y="224" width="21" height="11" fill="#DCE5F1"/>
<rect x="642" y="213" width="21" height="11" fill="#F6F9FB"/>
<rect x="642" y="202" width="21" height="11" fill="#F7F9FC"/>
<rect x="642" y="191" width="21" height="11" fill="#FFECEA"/>
<rect x="642" y="181" width="21" height="10" fill="#F5F7FB"/>
<rect x="642" y="170" width="21" height="11" fill="#FFFBFA"/>
<rect x="642" y="159" width="21" height="11" fill="#FFFFFF"/>
<rect x="642" y="148" width="21" height="11" fill="#FFFBFA"/>
<rect x="642" y="138" width="21" height="10" fill="#FFFAF9"/>
<rect x="642" y="127" width="21" height="11" fill="#FFF2F1"/>
<rect x="642" y="116" width="21" height="11" fill="#F7F9FC"/>
<rect x="642" y="105" width="21" height="11" fill="#FAFBFC"/>
<rect x="642" y="95" width="21" height="10" fill="#F7F9FC"/>
<rect x="642" y="84" width="21" height="11" fill="#F5F7FB"/>
<rect x="642" y="73" width="21" height="11" fill="#F0F4F9"/>
<rect x="642" y="62" width="21" height="11" fill="#D3DCED"/>
<rect x="642" y="51" width="21" height="11" fill="#DBE4F0"/>
<rect x="642" y="41" width="21" height="10" fill="#DDE5F1"/>
<rect x="642" y="30" width="21" height="11" fill="#D4DFED"/>
<rect x="642" y="19" width="21" height="11" fill="#EAEFF6"/>
<rect x="642" y="8" width="21" height="11" fill="#BE0018"/>
</g>
<g stroke="#1c1c1c" stroke-width="1.4">
<line x1="121.47" y1="300.2" x2="121.47" y2="304.00"/>
<line x1="105.90" y1="293.74" x2="109.2" y2="293.74"/>
<line x1="141.90" y1="300.2" x2="141.90" y2="304.00"/>
<line x1="105.90" y1="282.97" x2="109.2" y2="282.97"/>
<line x1="162.32" y1="300.2" x2="162.32" y2="304.00"/>
<line x1="105.90" y1="272.20" x2="109.2" y2="272.20"/>
<line x1="182.75" y1="300.2" x2="182.75" y2="304.00"/>
<line x1="105.90" y1="261.44" x2="109.2" y2="261.44"/>
<line x1="203.19" y1="300.2" x2="203.19" y2="304.00"/>
<line x1="105.90" y1="250.67" x2="109.2" y2="250.67"/>
<line x1="223.62" y1="300.2" x2="223.62" y2="304.00"/>
<line x1="105.90" y1="239.90" x2="109.2" y2="239.90"/>
<line x1="244.04" y1="300.2" x2="244.04" y2="304.00"/>
<line x1="105.90" y1="229.13" x2="109.2" y2="229.13"/>
<line x1="264.48" y1="300.2" x2="264.48" y2="304.00"/>
<line x1="105.90" y1="218.37" x2="109.2" y2="218.37"/>
<line x1="284.90" y1="300.2" x2="284.90" y2="304.00"/>
<line x1="105.90" y1="207.60" x2="109.2" y2="207.60"/>
<line x1="305.34" y1="300.2" x2="305.34" y2="304.00"/>
<line x1="105.90" y1="196.83" x2="109.2" y2="196.83"/>
<line x1="325.76" y1="300.2" x2="325.76" y2="304.00"/>
<line x1="105.90" y1="186.07" x2="109.2" y2="186.07"/>
<line x1="346.19" y1="300.2" x2="346.19" y2="304.00"/>
<line x1="105.90" y1="175.30" x2="109.2" y2="175.30"/>
<line x1="366.62" y1="300.2" x2="366.62" y2="304.00"/>
<line x1="105.90" y1="164.53" x2="109.2" y2="164.53"/>
<line x1="387.06" y1="300.2" x2="387.06" y2="304.00"/>
<line x1="105.90" y1="153.77" x2="109.2" y2="153.77"/>
<line x1="407.49" y1="300.2" x2="407.49" y2="304.00"/>
<line x1="105.90" y1="143.00" x2="109.2" y2="143.00"/>
<line x1="427.92" y1="300.2" x2="427.92" y2="304.00"/>
<line x1="105.90" y1="132.23" x2="109.2" y2="132.23"/>
<line x1="448.34" y1="300.2" x2="448.34" y2="304.00"/>
<line x1="105.90" y1="121.46" x2="109.2" y2="121.46"/>
<line x1="468.77" y1="300.2" x2="468.77" y2="304.00"/>
<line x1="105.90" y1="110.70" x2="109.2" y2="110.70"/>
<line x1="489.20" y1="300.2" x2="489.20" y2="304.00"/>
<line x1="105.90" y1="99.93" x2="109.2" y2="99.93"/>
<line x1="509.63" y1="300.2" x2="509.63" y2="304.00"/>
<line x1="105.90" y1="89.16" x2="109.2" y2="89.16"/>
<line x1="530.07" y1="300.2" x2="530.07" y2="304.00"/>
<line x1="105.90" y1="78.40" x2="109.2" y2="78.40"/>
<line x1="550.50" y1="300.2" x2="550.50" y2="304.00"/>
<line x1="105.90" y1="67.63" x2="109.2" y2="67.63"/>
<line x1="570.92" y1="300.2" x2="570.92" y2="304.00"/>
<line x1="105.90" y1="56.86" x2="109.2" y2="56.86"/>
<line x1="591.36" y1="300.2" x2="591.36" y2="304.00"/>
<line x1="105.90" y1="46.10" x2="109.2" y2="46.10"/>
<line x1="611.78" y1="300.2" x2="611.78" y2="304.00"/>
<line x1="105.90" y1="35.33" x2="109.2" y2="35.33"/>
<line x1="632.22" y1="300.2" x2="632.22" y2="304.00"/>
<line x1="105.90" y1="24.56" x2="109.2" y2="24.56"/>
<line x1="652.64" y1="300.2" x2="652.64" y2="304.00"/>
<line x1="105.90" y1="13.79" x2="109.2" y2="13.79"/>
</g>
<g font-size="11.73" fill="#3C3C3C" text-anchor="end">
<text x="102.3" y="298.14">carat</text>
<text x="102.3" y="287.37">depth</text>
<text x="102.3" y="276.60">table</text>
<text x="102.3" y="265.84">price</text>
<text x="102.3" y="255.07">x</text>
<text x="102.3" y="244.30">y</text>
<text x="102.3" y="233.53">z</text>
<text x="102.3" y="222.77">cut_Fair</text>
<text x="102.3" y="212.00">cut_Good</text>
<text x="102.3" y="201.23">cut_Ideal</text>
<text x="102.3" y="190.47">cut_Premium</text>
<text x="102.3" y="179.70">cut_Very.Good</text>
<text x="102.3" y="168.93">color_D</text>
<text x="102.3" y="158.17">color_E</text>
<text x="102.3" y="147.40">color_F</text>
<text x="102.3" y="136.63">color_G</text>
<text x="102.3" y="125.86">color_H</text>
<text x="102.3" y="115.10">color_I</text>
<text x="102.3" y="104.33">color_J</text>
<text x="102.3" y="93.56">clarity_I1</text>
<text x="102.3" y="82.80">clarity_IF</text>
<text x="102.3" y="72.03">clarity_SI1</text>
<text x="102.3" y="61.26">clarity_SI2</text>
<text x="102.3" y="50.50">clarity_VS1</text>
<text x="102.3" y="39.73">clarity_VS2</text>
<text x="102.3" y="28.96">clarity_VVS1</text>
<text x="102.3" y="18.19">clarity_VVS2</text>
</g>
<g font-size="11.73" fill="#3C3C3C" text-anchor="middle">
<text transform="translate(130.16,346.5) rotate(-90)">carat</text>
<text transform="translate(150.59,346.5) rotate(-90)">depth</text>
<text transform="translate(171.02,346.5) rotate(-90)">table</text>
<text transform="translate(191.45,346.5) rotate(-90)">price</text>
<text transform="translate(211.88,346.5) rotate(-90)">x</text>
<text transform="translate(232.31,346.5) rotate(-90)">y</text>
<text transform="translate(252.74,346.5) rotate(-90)">z</text>
<text transform="translate(273.18,346.5) rotate(-90)">cut_Fair</text>
<text transform="translate(293.60,346.5) rotate(-90)">cut_Good</text>
<text transform="translate(314.04,346.5) rotate(-90)">cut_Ideal</text>
<text transform="translate(334.46,346.5) rotate(-90)">cut_Premium</text>
<text transform="translate(354.89,346.5) rotate(-90)">cut_Very.Good</text>
<text transform="translate(375.32,346.5) rotate(-90)">color_D</text>
<text transform="translate(395.75,346.5) rotate(-90)">color_E</text>
<text transform="translate(416.19,346.5) rotate(-90)">color_F</text>
<text transform="translate(436.62,346.5) rotate(-90)">color_G</text>
<text transform="translate(457.04,346.5) rotate(-90)">color_H</text>
<text transform="translate(477.47,346.5) rotate(-90)">color_I</text>
<text transform="translate(497.90,346.5) rotate(-90)">color_J</text>
<text transform="translate(518.34,346.5) rotate(-90)">clarity_I1</text>
<text transform="translate(538.77,346.5) rotate(-90)">clarity_IF</text>
<text transform="translate(559.20,346.5) rotate(-90)">clarity_SI1</text>
<text transform="translate(579.62,346.5) rotate(-90)">clarity_SI2</text>
<text transform="translate(600.06,346.5) rotate(-90)">clarity_VS1</text>
<text transform="translate(620.49,346.5) rotate(-90)">clarity_VS2</text>
<text transform="translate(640.92,346.5) rotate(-90)">clarity_VVS1</text>
<text transform="translate(661.35,346.5) rotate(-90)">clarity_VVS2</text>
</g>
<text x="386.8" y="399.6" font-size="14.67" text-anchor="middle" fill="#000">Features</text>
<text transform="translate(17.6,154.3) rotate(-90)" font-size="14.67" text-anchor="middle" fill="#000">Features</text>
<text x="269.3" y="450.7" font-size="14.67" fill="#000">Correlation Meter</text>
<defs><linearGradient id="cb" x1="0" x2="1" y1="0" y2="0">
<stop offset="0%" stop-color="#075EA0"/>
<stop offset="5%" stop-color="#2D6BA9"/>
<stop offset="10%" stop-color="#4578B3"/>
<stop offset="15%" stop-color="#5C87BC"/>
<stop offset="20%" stop-color="#7296C5"/>
<stop offset="25%" stop-color="#88A6CF"/>
<stop offset="30%" stop-color="#9FB6D7"/>
<stop offset="35%" stop-color="#B6C8E1"/>
<stop offset="40%" stop-color="#CEDAEB"/>
<stop offset="45%" stop-color="#E6ECF5"/>
<stop offset="50%" stop-color="#FFFFFF"/>
<stop offset="55%" stop-color="#FFE5E0"/>
<stop offset="60%" stop-color="#FECBC3"/>
<stop offset="65%" stop-color="#FBB3A7"/>
<stop offset="70%" stop-color="#F69A8E"/>
<stop offset="75%" stop-color="#F08375"/>
<stop offset="80%" stop-color="#E96D5F"/>
<stop offset="85%" stop-color="#DF564B"/>
<stop offset="90%" stop-color="#D54038"/>
<stop offset="95%" stop-color="#CA2827"/>
<stop offset="100%" stop-color="#BE0018"/>
</linearGradient></defs>
<rect x="389.7" y="424.1" width="115.00" height="22.80" fill="url(#cb)"/>
<g stroke="#fff" stroke-width="0.9" stroke-opacity="0.75">
<line x1="389.70" y1="424.1" x2="389.70" y2="428.70"/><line x1="389.70" y1="442.30" x2="389.70" y2="446.9"/>
<line x1="418.45" y1="424.1" x2="418.45" y2="428.70"/><line x1="418.45" y1="442.30" x2="418.45" y2="446.9"/>
<line x1="447.20" y1="424.1" x2="447.20" y2="428.70"/><line x1="447.20" y1="442.30" x2="447.20" y2="446.9"/>
<line x1="475.95" y1="424.1" x2="475.95" y2="428.70"/><line x1="475.95" y1="442.30" x2="475.95" y2="446.9"/>
<line x1="504.70" y1="424.1" x2="504.70" y2="428.70"/><line x1="504.70" y1="442.30" x2="504.70" y2="446.9"/>
</g><g font-size="11.73" fill="#000" text-anchor="middle">
<text x="389.70" y="462.7">-1.0</text>
<text x="418.45" y="462.7">-0.5</text>
<text x="447.20" y="462.7">0.0</text>
<text x="475.95" y="462.7">0.5</text>
<text x="504.70" y="462.7">1.0</text>
</g></svg></body></html>
